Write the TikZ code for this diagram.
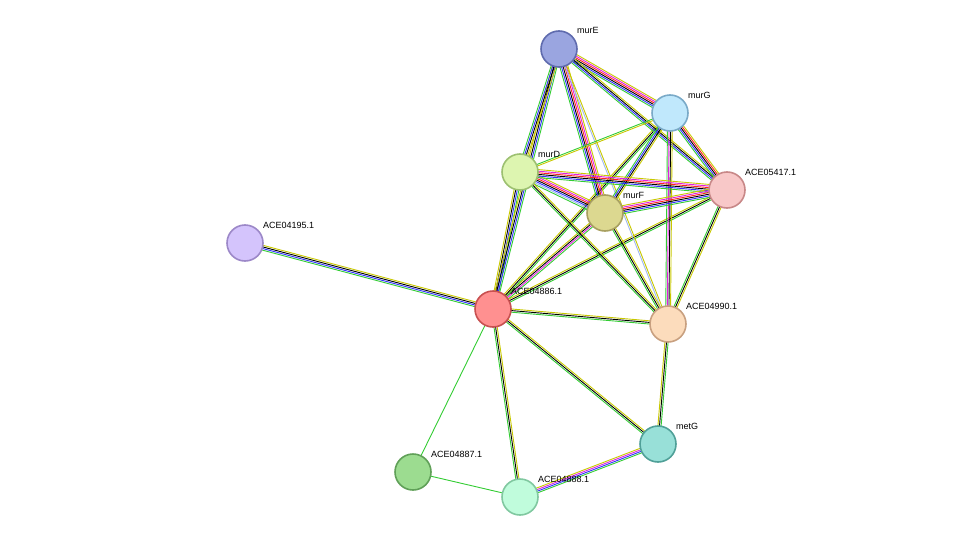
\documentclass[tikz,border=0pt]{standalone}
\usepackage{fontspec}
\setmainfont{Liberation Sans}
\usetikzlibrary{calc}
\definecolor{egreen}{HTML}{33CC33}
\definecolor{eyellow}{HTML}{C8C800}
\definecolor{eblue}{HTML}{3030FF}
\definecolor{ered}{HTML}{FF2020}
\definecolor{emag}{HTML}{E020E0}
\definecolor{elight}{HTML}{A0B8F0}
\definecolor{fmurE}{HTML}{9AA5E0}\definecolor{dmurE}{HTML}{5F6BAE}
\definecolor{fmurG}{HTML}{C0E8FC}\definecolor{dmurG}{HTML}{7AAAC8}
\definecolor{fmurD}{HTML}{DDF5B0}\definecolor{dmurD}{HTML}{9CC070}
\definecolor{fa417}{HTML}{F8C8C8}\definecolor{da417}{HTML}{C88888}
\definecolor{fmurF}{HTML}{DCD890}\definecolor{dmurF}{HTML}{A8A060}
\definecolor{fa195}{HTML}{D4C4FC}\definecolor{da195}{HTML}{9C88C8}
\definecolor{fa886}{HTML}{FF9090}\definecolor{da886}{HTML}{C85050}
\definecolor{fa990}{HTML}{FCDCBC}\definecolor{da990}{HTML}{C8A080}
\definecolor{fmetG}{HTML}{98E0D8}\definecolor{dmetG}{HTML}{50A098}
\definecolor{fa887}{HTML}{9CDC90}\definecolor{da887}{HTML}{60A058}
\definecolor{fa888}{HTML}{C0FCDC}\definecolor{da888}{HTML}{80C8A0}
\tikzset{
  prot/.style={circle, minimum size=36pt, inner sep=0pt, line width=1.6pt},
  plabel/.style={anchor=base west, font=\fontsize{9}{10}\selectfont, inner sep=0pt},
}
\begin{document}
\begin{tikzpicture}[x=1pt, y=-1pt]
\useasboundingbox (0,0) rectangle (976,543);
% node positions
\coordinate (murE) at (559,49);
\coordinate (murG) at (670,113);
\coordinate (murD) at (520,172);
\coordinate (a417) at (727,190);
\coordinate (murF) at (605,213);
\coordinate (a195) at (245,243);
\coordinate (a886) at (493,309);
\coordinate (a990) at (668,324);
\coordinate (metG) at (658,444);
\coordinate (a887) at (413,472);
\coordinate (a888) at (520,497);

% edges
\foreach \a/\b/\cols/\k in {
  a195/a886/{egreen,eblue,black,eyellow}/4,
  a886/murD/{egreen,eblue,black,eyellow}/4,
  a886/murE/{egreen,eblue,black,eyellow}/4,
  a886/murF/{egreen,emag,black,eyellow}/4,
  a886/murG/{egreen,black,eyellow}/3,
  a886/a417/{egreen,black,eyellow}/3,
  a886/a990/{egreen,black,eyellow}/3,
  a886/metG/{egreen,black,eyellow}/3,
  a886/a888/{egreen,black,eyellow}/3,
  a886/a887/{egreen}/1,
  a887/a888/{egreen}/1,
  a888/metG/{egreen,eblue,emag,eyellow}/4,
  metG/a990/{egreen,black,eyellow}/3,
  murE/murG/{egreen,eblue,black,ered,emag,eyellow}/6,
  murE/murD/{egreen,eblue,black,eyellow}/4,
  murE/murF/{egreen,eblue,black,ered,emag,eyellow}/6,
  murE/a417/{egreen,eblue,black,eyellow}/4,
  murE/a990/{elight,eyellow}/2,
  murG/murD/{egreen,eyellow}/2,
  murG/murF/{egreen,eblue,black,eyellow}/4,
  murG/a417/{egreen,eblue,black,ered,eyellow}/5,
  murG/a990/{egreen,emag,black,eyellow}/4,
  murD/murF/{egreen,elight,eblue,black,ered,emag,eyellow}/7,
  murD/a417/{egreen,eblue,black,ered,emag,eyellow}/6,
  murD/a990/{egreen,black,eyellow}/3,
  murF/a417/{egreen,eblue,black,ered,emag,eyellow}/6,
  murF/a990/{egreen,black,eyellow}/3,
  a417/a990/{egreen,black,eyellow}/3}
{
  \foreach \c [count=\i] in \cols {
    \pgfmathsetmacro{\o}{(\i-(\k+1)/2)*1.6}
    \draw[\c, line width=0.9pt] ($(\a)!\o pt!90:(\b)$) -- ($(\b)!\o pt!-90:(\a)$);
  }
}

% nodes
\foreach \n/\t in {murE/murE, murG/murG, murD/murD, a417/ACE05417.1,
  murF/murF, a195/ACE04195.1, a886/ACE04886.1, a990/ACE04990.1,
  metG/metG, a887/ACE04887.1, a888/ACE04888.1} {
  \node[prot, fill=f\n, draw=d\n] (\n-c) at (\n) {};
  \node[plabel] (\n-l) at ($(\n)+(18,-15)$) {\t};
}
\end{tikzpicture}
\end{document}
